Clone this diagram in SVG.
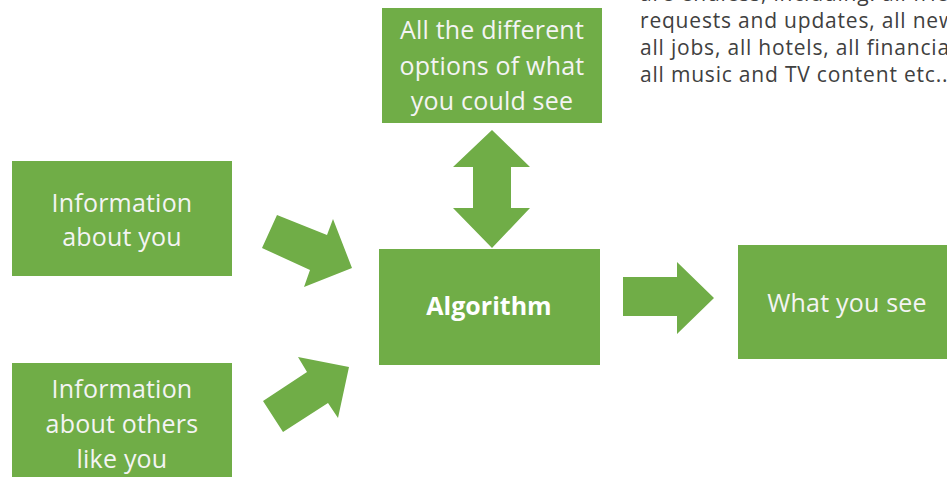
<svg xmlns="http://www.w3.org/2000/svg" width="947" height="477" viewBox="0 0 947 477">
  <style>
    .box { fill: #70AD47; }
    .arrow { fill: #70AD47; }
    .label { font-family: "Open Sans", "Noto Sans", "DejaVu Sans", sans-serif; font-size: 25px; letter-spacing: 0.2px; fill: #F4F4F4; text-anchor: middle; }
    .bold { font-weight: bold; fill: #FFFFFF; letter-spacing: 0; }
    .note { font-family: "Open Sans", "Noto Sans", "DejaVu Sans", sans-serif; font-size: 21px; letter-spacing: 0.8px; fill: #404040; }
  </style>

  <rect width="947" height="477" fill="#FFFFFF"/>

  <!-- side note listing the possible content -->
  <g id="note">
    <text class="note" x="640" y="1">are endless, including: all friend</text>
    <text class="note" x="640" y="28">requests and updates, all news,</text>
    <text class="note" x="640" y="55">all jobs, all hotels, all financial</text>
    <text class="note" x="640" y="82">all music and TV content etc..</text>
  </g>

  <g id="options">
    <rect class="box" x="382" y="8" width="220" height="115"/>
    <text class="label" x="492" y="39">All the different</text>
    <text class="label" x="492" y="75">options of what</text>
    <text class="label" x="492" y="110">you could see</text>
  </g>

  <g id="info-you">
    <rect class="box" x="12" y="161" width="220" height="115"/>
    <text class="label" x="122" y="212">Information</text>
    <text class="label" x="122" y="246">about you</text>
  </g>

  <g id="info-others">
    <rect class="box" x="12" y="363" width="220" height="130"/>
    <text class="label" x="122" y="398">Information</text>
    <text class="label" x="122" y="433">about others</text>
    <text class="label" x="122" y="468">like you</text>
  </g>

  <g id="algorithm">
    <rect class="box" x="379" y="249" width="221" height="116"/>
    <text class="label bold" x="489" y="315">Algorithm</text>
  </g>

  <g id="what-you-see">
    <rect class="box" x="738" y="245" width="230" height="114"/>
    <text class="label" x="847" y="312">What you see</text>
  </g>

  <!-- block arrows between the boxes -->
  <g id="connectors">
    <polygon class="arrow" points="277,215 327,235 333,219 352,268 304,287 310,270 262,248"/>
    <polygon class="arrow" points="263,401 307,372 298,357 349,367 338,418 328,403 283,432"/>
    <polygon class="arrow" points="492,130 530,167 511,167 511,208 530,208 492,248 453,208 473,208 473,167 453,167"/>
    <polygon class="arrow" points="623,277 677,277 677,262 714,298 677,334 677,316 623,316"/>
  </g>
</svg>
